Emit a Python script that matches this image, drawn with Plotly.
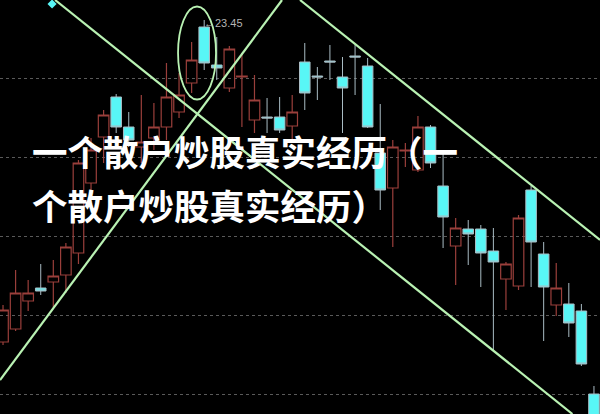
import plotly.graph_objects as go

# ---- data (prices) ----
idx = list(range(48))
opens = [17.01, 17.27, 17.83, 18.09, 18.21, 18.35, 18.79, 20.19, 21.11, 21.91,
         21.31, 20.91, 21.09, 21.31, 21.61, 22.19, 23.31, 22.55, 22.09, 22.31,
         21.45, 21.51, 21.51, 21.33, 22.61, 22.33, 22.63, 22.31, 22.73, 22.53,
         20.79, 20.09, 20.83, 20.45, 21.31, 20.13, 18.93, 19.27, 19.27, 18.83,
         18.27, 18.13, 20.05, 18.77, 17.75, 17.77, 17.63, 15.97]
highs = [17.75, 18.45, 18.25, 18.57, 18.65, 18.99, 20.65, 21.09, 21.65, 21.97,
         21.61, 21.95, 21.79, 22.59, 22.39, 23.01, 23.45, 23.11, 22.93, 22.79,
         22.35, 21.89, 21.91, 21.95, 22.99, 22.51, 22.95, 22.71, 22.95, 22.69,
         21.77, 21.05, 20.99, 21.53, 21.35, 20.85, 19.49, 19.45, 19.35, 19.29,
         18.61, 19.55, 20.13, 19.01, 18.59, 18.19, 17.77, 16.13]
lows = [16.95, 17.23, 17.63, 17.95, 17.71, 17.99, 18.57, 19.91, 20.59, 21.19,
        20.91, 20.59, 20.85, 21.05, 21.49, 21.99, 22.45, 22.25, 22.01, 21.31,
        21.19, 21.19, 21.19, 21.05, 21.65, 21.85, 22.25, 21.19, 21.95, 21.29,
        19.65, 18.91, 20.51, 20.41, 20.49, 18.89, 18.15, 18.55, 18.11, 16.85,
        17.65, 18.05, 18.11, 17.03, 17.53, 17.11, 16.53, 15.35]
closes = [17.65, 17.99, 17.99, 18.03, 18.33, 18.91, 20.59, 20.85, 21.55, 21.31,
          21.05, 21.01, 21.31, 21.91, 21.95, 22.65, 22.59, 22.49, 22.87, 22.33,
          21.85, 21.49, 21.25, 21.61, 21.99, 22.31, 22.61, 22.09, 22.71, 21.31,
          20.05, 20.91, 20.85, 21.31, 20.59, 19.51, 19.29, 19.17, 18.79, 18.61,
          18.57, 19.49, 19.01, 18.11, 18.09, 17.39, 16.57, 15.35]

grid_levels = [22.28, 20.70, 19.12, 17.54, 15.96]
peak_label = "←23.45"
peak_index = 16
peak_price = 23.45

# hand-drawn trend lines (index, price)
line1_x = [4.14, 45.29]; line1_y = [23.85, 15.57]
line2_x = [-0.24, 22.19]; line2_y = [16.25, 23.85]
line3_x = [23.62, 47.48]; line3_y = [23.85, 19.05]
marker_x = [3.9]; marker_y = [23.77]

title1 = "一个散户炒股真实经历（一"
title2 = "个散户炒股真实经历）"

GREEN = "#B9F2B3"
RED = "#9A3F3B"
CYAN = "#58F6F6"
CYAN_LINE = "#A9BCC4"

fig = go.Figure()
fig.add_trace(go.Candlestick(
    x=idx, open=opens, high=highs, low=lows, close=closes,
    increasing=dict(line=dict(color=RED, width=1.2), fillcolor="rgba(0,0,0,0)"),
    decreasing=dict(line=dict(color=CYAN_LINE, width=1), fillcolor=CYAN),
    whiskerwidth=0, showlegend=False, hoverinfo="skip"))

for lx, ly in [(line1_x, line1_y), (line2_x, line2_y), (line3_x, line3_y)]:
    fig.add_trace(go.Scatter(x=lx, y=ly, mode="lines",
                             line=dict(color=GREEN, width=2.2),
                             showlegend=False, hoverinfo="skip"))

fig.add_trace(go.Scatter(x=marker_x, y=marker_y, mode="markers",
                         marker=dict(symbol="diamond", size=7, color=CYAN),
                         showlegend=False, hoverinfo="skip", cliponaxis=False))

# ellipse around the peak
fig.add_shape(type="circle", xref="x", yref="y",
              x0=13.92, x1=16.94, y0=21.86, y1=23.72,
              line=dict(color=GREEN, width=1.8))

fig.add_annotation(x=peak_index, y=peak_price, text=peak_label, showarrow=False,
                   xanchor="left", yanchor="middle", xshift=-2, yshift=-3,
                   font=dict(family="Liberation Sans, Arial", size=11, color="#B5B5B5"))

fig.add_annotation(xref="paper", yref="paper", x=0.05, y=1 - 150 / 414,
                   text=title1, showarrow=False, xanchor="left", yanchor="middle",
                   font=dict(family="Noto Sans CJK SC", size=35.5, color="#FFFFFF",
                             weight="bold"))
fig.add_annotation(xref="paper", yref="paper", x=0.05, y=1 - 204 / 414,
                   text=title2, showarrow=False, xanchor="left", yanchor="middle",
                   font=dict(family="Noto Sans CJK SC", size=35.5, color="#FFFFFF",
                             weight="bold"))

fig.update_layout(
    width=600, height=414,
    margin=dict(l=0, r=0, t=0, b=0),
    paper_bgcolor="black", plot_bgcolor="black",
    boxgap=0.16, boxgroupgap=0.0,
    xaxis=dict(range=[-0.24, 47.48], visible=False, rangeslider=dict(visible=False),
               showgrid=False, zeroline=False),
    yaxis=dict(range=[15.57, 23.85], tickvals=grid_levels, showticklabels=False,
               showgrid=True, gridcolor="#5A5A5A", griddash="dot", gridwidth=1,
               zeroline=False, showline=False, ticks=""),
)

fig.write_html("out.html", config={"displayModeBar": False},
               post_script="document.body.style.margin='0';"
                           "document.body.style.background='black';")
